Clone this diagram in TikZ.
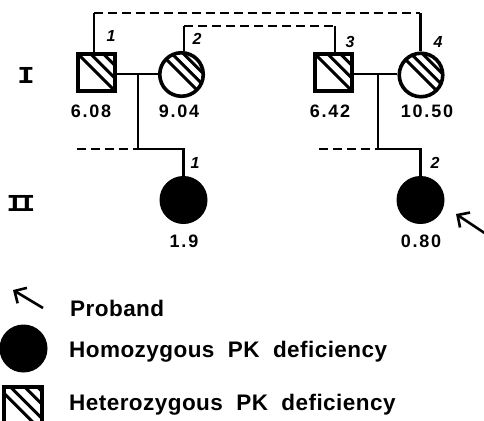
\documentclass[tikz,border=0pt]{standalone}
\usepackage{fontspec}
\usepackage{graphicx}
\usetikzlibrary{arrows.meta}
\newfontfamily\lab[LetterSpace=2,WordSpace=2]{Liberation Sans}
\newfontfamily\num[LetterSpace=10]{Liberation Sans}
\newfontfamily\rom{DejaVu Sans Mono}
\tikzset{
  pen/.style={line width=2.8pt},
  dsh/.style={dash pattern=on 9pt off 5pt},
  male/.style={draw, rectangle, line width=3.6pt, minimum size=37.5pt, inner sep=0pt},
  female/.style={draw, circle, line width=3.6pt, minimum size=43.5pt, inner sep=0pt},
  affected/.style={draw, circle, fill=black, line width=1pt, minimum size=47pt, inner sep=0pt},
  hatch/.style={path picture={\foreach \d in {#1}
      \draw[line width=3pt] ([shift={(\d*0.7071pt-40pt,\d*0.7071pt+40pt)}]path picture bounding box.center) -- ++(80pt,-80pt);}},
  numlab/.style={font=\num\bfseries\fontsize{18}{18}\selectfont, inner sep=0pt, anchor=base},
  idlab/.style={font=\lab\bfseries\itshape\fontsize{16}{16}\selectfont, inner sep=0pt},
  romlab/.style={font=\rom\bfseries\fontsize{22}{22}\selectfont, inner sep=0pt},
  leglab/.style={font=\lab\bfseries\fontsize{22.5}{22.5}\selectfont, inner sep=0pt, anchor=base west},
  arr/.style={line width=2.6pt, -{Straight Barb[length=9pt,width=18pt,line width=2.6pt]}}
}
\begin{document}
\begin{tikzpicture}[x=1pt,y=-1pt]
\useasboundingbox (0,0) rectangle (484,420);
\fill[white] (0,0) rectangle (484,420);
% generation I
\node[male, hatch={0,9,18}] (s1) at (96.5,72.5) {};
\node[female, hatch={0,8,16,23}] (c2) at (181.5,74.5) {};
\node[male, hatch={0,9,18}] (s3) at (333.5,72.5) {};
\node[female, hatch={0,8,16,23}] (c4) at (421,75) {};
% generation II
\node[affected] (d1) at (183.5,200) {};
\node[affected] (d2) at (420.5,200) {};
% helper coordinates
\coordinate (m1) at (138,74);
\coordinate (j1) at (183.5,149);
\coordinate (e1) at (77,149);
\coordinate (m2) at (378,74);
\coordinate (j2) at (420.5,149);
\coordinate (e2) at (319,149);
\coordinate (ta) at (0,13);
\coordinate (tb) at (0,26);
% marriages and descent
\draw[pen] (s1.east |- m1) -- (c2.west |- m1);
\draw[pen] (m1) -- (m1 |- j1) -- (j1) -- (d1.north);
\draw[pen,dsh] (e1) -- (m1 |- j1);
\draw[pen] (s3.east |- m2) -- (c4.west |- m2);
\draw[pen] (m2) -- (m2 |- j2) -- (j2) -- (d2.north);
\draw[pen,dsh] (e2) -- (m2 |- j2);
% consanguinity links
\draw[pen] (s1.97) -- (s1.97 |- ta);
\draw[pen,dsh] (s1.97 |- ta) -- (c4.92 |- ta);
\draw[pen] (c4.92 |- ta) -- (c4.92);
\draw[pen] (c2.84) -- (c2.84 |- tb);
\draw[pen,dsh] (c2.84 |- tb) -- (s3.86 |- tb);
\draw[pen] (s3.86 |- tb) -- (s3.86);
% labels
\node[numlab] (n1) at (91,117) {6.08};
\node[numlab] (n2) at (179,117) {9.04};
\node[numlab] (n3) at (330,117) {6.42};
\node[numlab] (n4) at (427,117) {10.50};
\node[numlab] (n5) at (184,247) {1.9};
\node[numlab] (n6) at (421,247) {0.80};
\node[idlab] (i1) at (111,36) {1};
\node[idlab] (i2) at (197,39) {2};
\node[idlab] (i3) at (350,42) {3};
\node[idlab] (i4) at (438,42) {4};
\node[idlab] (i5) at (195,163) {1};
\node[idlab] (i6) at (435,163) {2};
\node[romlab] (g1) at (26,75) {\scalebox{1.35}[1]{I}};
\node[romlab] (g2) at (21,203) {\scalebox{1.3}[1]{I\kern-4pt I}};
% proband arrow
\coordinate (pt) at (486,234);
\coordinate (ph) at (456,214);
\draw[arr] (pt) -- (ph);
% legend
\coordinate (lt) at (43,308);
\coordinate (lh) at (13,290);
\draw[arr] (lt) -- (lh);
\node[leglab] (t1) at (70,316) {Proband};
\node[affected] (lc) at (23.5,348.5) {};
\node[leglab] (t2) at (69,357) {Homozygous PK deficiency};
\node[male, minimum size=38.5pt, hatch={-4,5,15,24}] (ls) at (23,406.5) {};
\node[leglab] (t3) at (69,410) {Heterozygous PK deficiency};
\end{tikzpicture}
\end{document}
